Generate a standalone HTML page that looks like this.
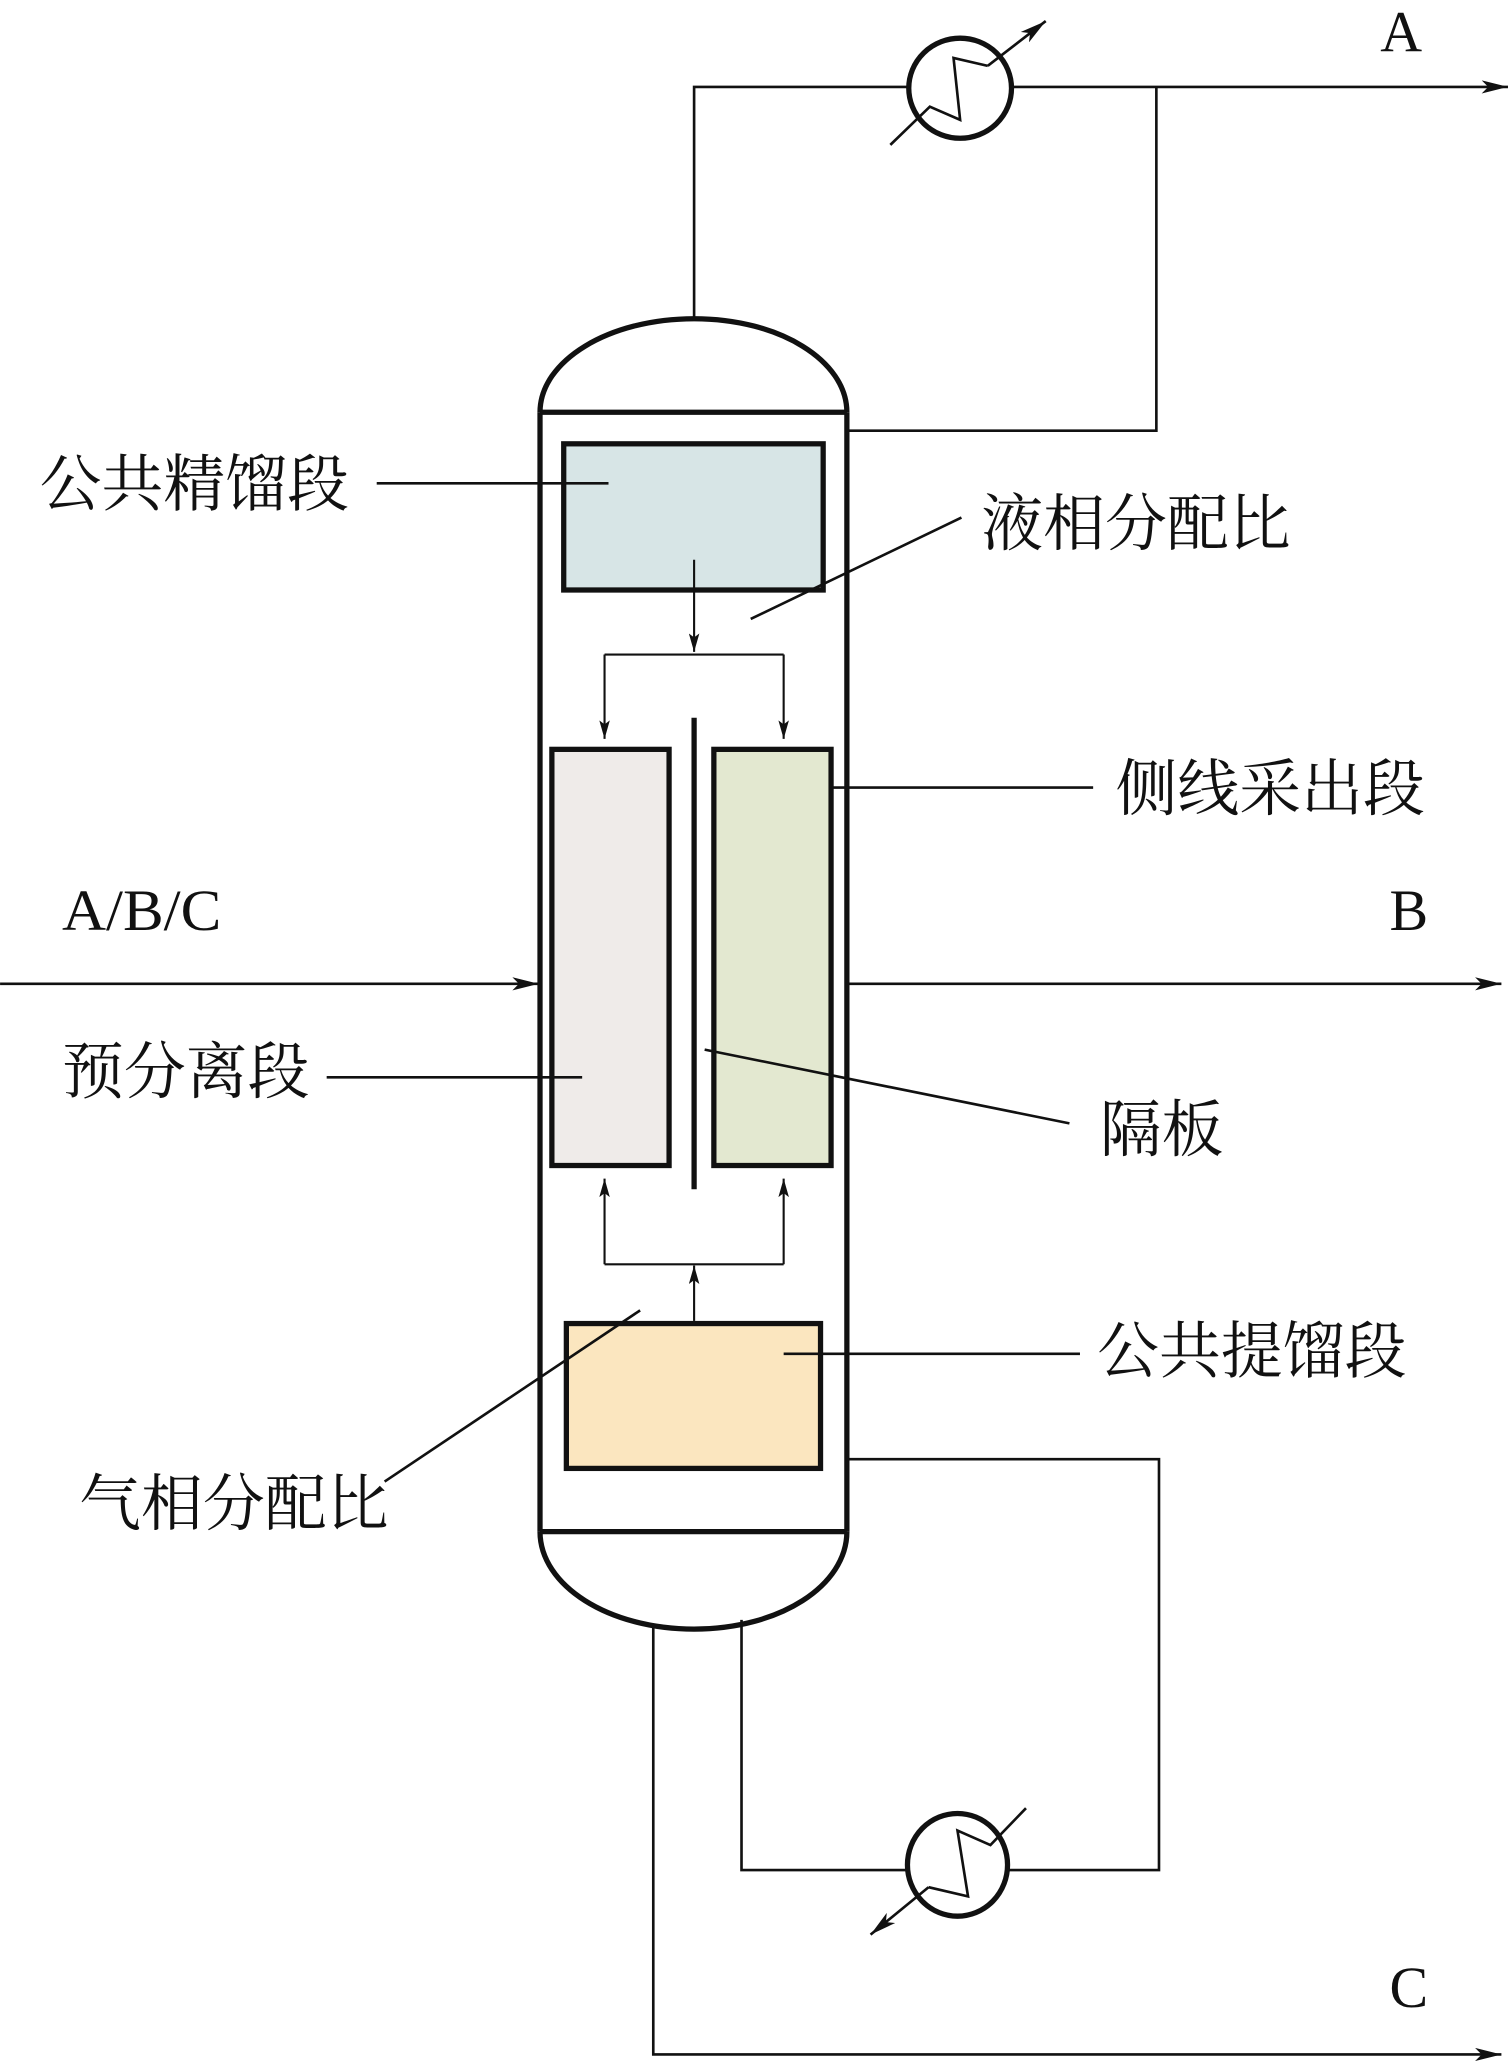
<!DOCTYPE html>
<html><head><meta charset="utf-8"><style>
html,body{margin:0;padding:0;background:#fff}
svg{display:block}
text{font-family:"Liberation Serif","Noto Serif CJK SC",serif;fill:#111}
</style></head><body>
<svg width="1512" height="2065" viewBox="0 0 1148 1568" xmlns="http://www.w3.org/2000/svg">
<defs>
<marker id="ar" viewBox="0 0 20 10" refX="20" refY="5" markerWidth="20" markerHeight="10" markerUnits="userSpaceOnUse" orient="auto">
<path d="M0,0 L20,5 L0,10 L5,5 Z" fill="#111"/></marker>
<marker id="as" viewBox="0 0 14 8" refX="14" refY="4" markerWidth="14" markerHeight="8" markerUnits="userSpaceOnUse" orient="auto">
<path d="M0,0 L14,4 L0,8 L3,4 Z" fill="#111"/></marker>
</defs>
<g fill="none" stroke="#111" stroke-width="2">
<polyline points="527,242 527,66 690,66"/>
<line x1="768" y1="66" x2="1145" y2="66" marker-end="url(#ar)"/>
<polyline points="878,66 878,327 643,327"/>
<line x1="0" y1="747" x2="409" y2="747" marker-end="url(#ar)"/>
<line x1="644" y1="747" x2="1140" y2="747" marker-end="url(#ar)"/>
<polyline points="643,1108 880,1108 880,1420 766,1420"/>
<polyline points="688,1420 563,1420 563,1230"/>
<polyline points="496,1234 496,1560 1140,1560" marker-end="url(#ar)"/>
</g>
<g stroke="#111" stroke-width="4" fill="none">
<path d="M410,313 C410,274 462,242 527,242 C592,242 643,274 643,313"/>
<path d="M410,1163 C410,1204 462,1237 527,1237 C592,1237 643,1204 643,1163"/>
<line x1="410" y1="313" x2="410" y2="1163"/>
<line x1="643" y1="313" x2="643" y2="1163"/>
<line x1="410" y1="313" x2="643" y2="313"/>
<line x1="410" y1="1163" x2="643" y2="1163"/>
</g>
<g stroke="#111" stroke-width="4">
<rect x="428" y="337" width="197" height="111" fill="#d7e5e6"/>
<rect x="419" y="569" width="89" height="316" fill="#efebe9"/>
<rect x="542" y="569" width="89" height="316" fill="#e3e8d0"/>
<rect x="430" y="1005" width="193" height="110" fill="#fbe6bf"/>
</g>
<line x1="527" y1="545" x2="527" y2="903" stroke="#111" stroke-width="4"/>
<g fill="none" stroke="#111" stroke-width="1.6">
<line x1="527" y1="425" x2="527" y2="495" marker-end="url(#as)"/>
<polyline points="459,497 595,497"/>
<line x1="459" y1="497" x2="459" y2="561" marker-end="url(#as)"/>
<line x1="595" y1="497" x2="595" y2="561" marker-end="url(#as)"/>
<line x1="459" y1="960" x2="459" y2="895" marker-end="url(#as)"/>
<line x1="595" y1="960" x2="595" y2="895" marker-end="url(#as)"/>
<polyline points="459,960 595,960"/>
<line x1="527" y1="1003" x2="527" y2="961" marker-end="url(#as)"/>
</g>
<g fill="none" stroke="#111">
<ellipse cx="729" cy="67" rx="39" ry="38" stroke-width="4"/>
<polyline points="676,110 706,81 729,91 724,44 750,50" stroke-width="2"/>
<line x1="750" y1="50" x2="794" y2="16" stroke-width="2" marker-end="url(#ar)"/>
<ellipse cx="727" cy="1416" rx="38" ry="39" stroke-width="4"/>
<polyline points="779,1373 752,1401 727,1390 735,1440 705,1433" stroke-width="2"/>
<line x1="705" y1="1433" x2="661" y2="1469" stroke-width="2" marker-end="url(#ar)"/>
</g>
<g stroke="#111" stroke-width="2">
<line x1="286" y1="367" x2="462" y2="367"/>
<line x1="730" y1="393" x2="570" y2="470"/>
<line x1="631" y1="598" x2="830" y2="598"/>
<line x1="248" y1="818" x2="442" y2="818"/>
<line x1="535" y1="797" x2="812" y2="853"/>
<line x1="595" y1="1028" x2="820" y2="1028"/>
<line x1="292" y1="1125" x2="486" y2="995"/>
</g>
<g font-size="47">
<text x="30" y="384">公共精馏段</text>
<text x="745" y="414">液相分配比</text>
<text x="847" y="615">侧线采出段</text>
<text x="47" y="830">预分离段</text>
<text x="835" y="874">隔板</text>
<text x="833" y="1042">公共提馏段</text>
<text x="60" y="1158">气相分配比</text>
</g>
<g font-size="44">
<text x="1048" y="39" textLength="33">A</text>
<text x="47" y="706" textLength="121" lengthAdjust="spacingAndGlyphs">A/B/C</text>
<text x="1055" y="706">B</text>
<text x="1055" y="1524">C</text>
</g>
</svg>
</body></html>
